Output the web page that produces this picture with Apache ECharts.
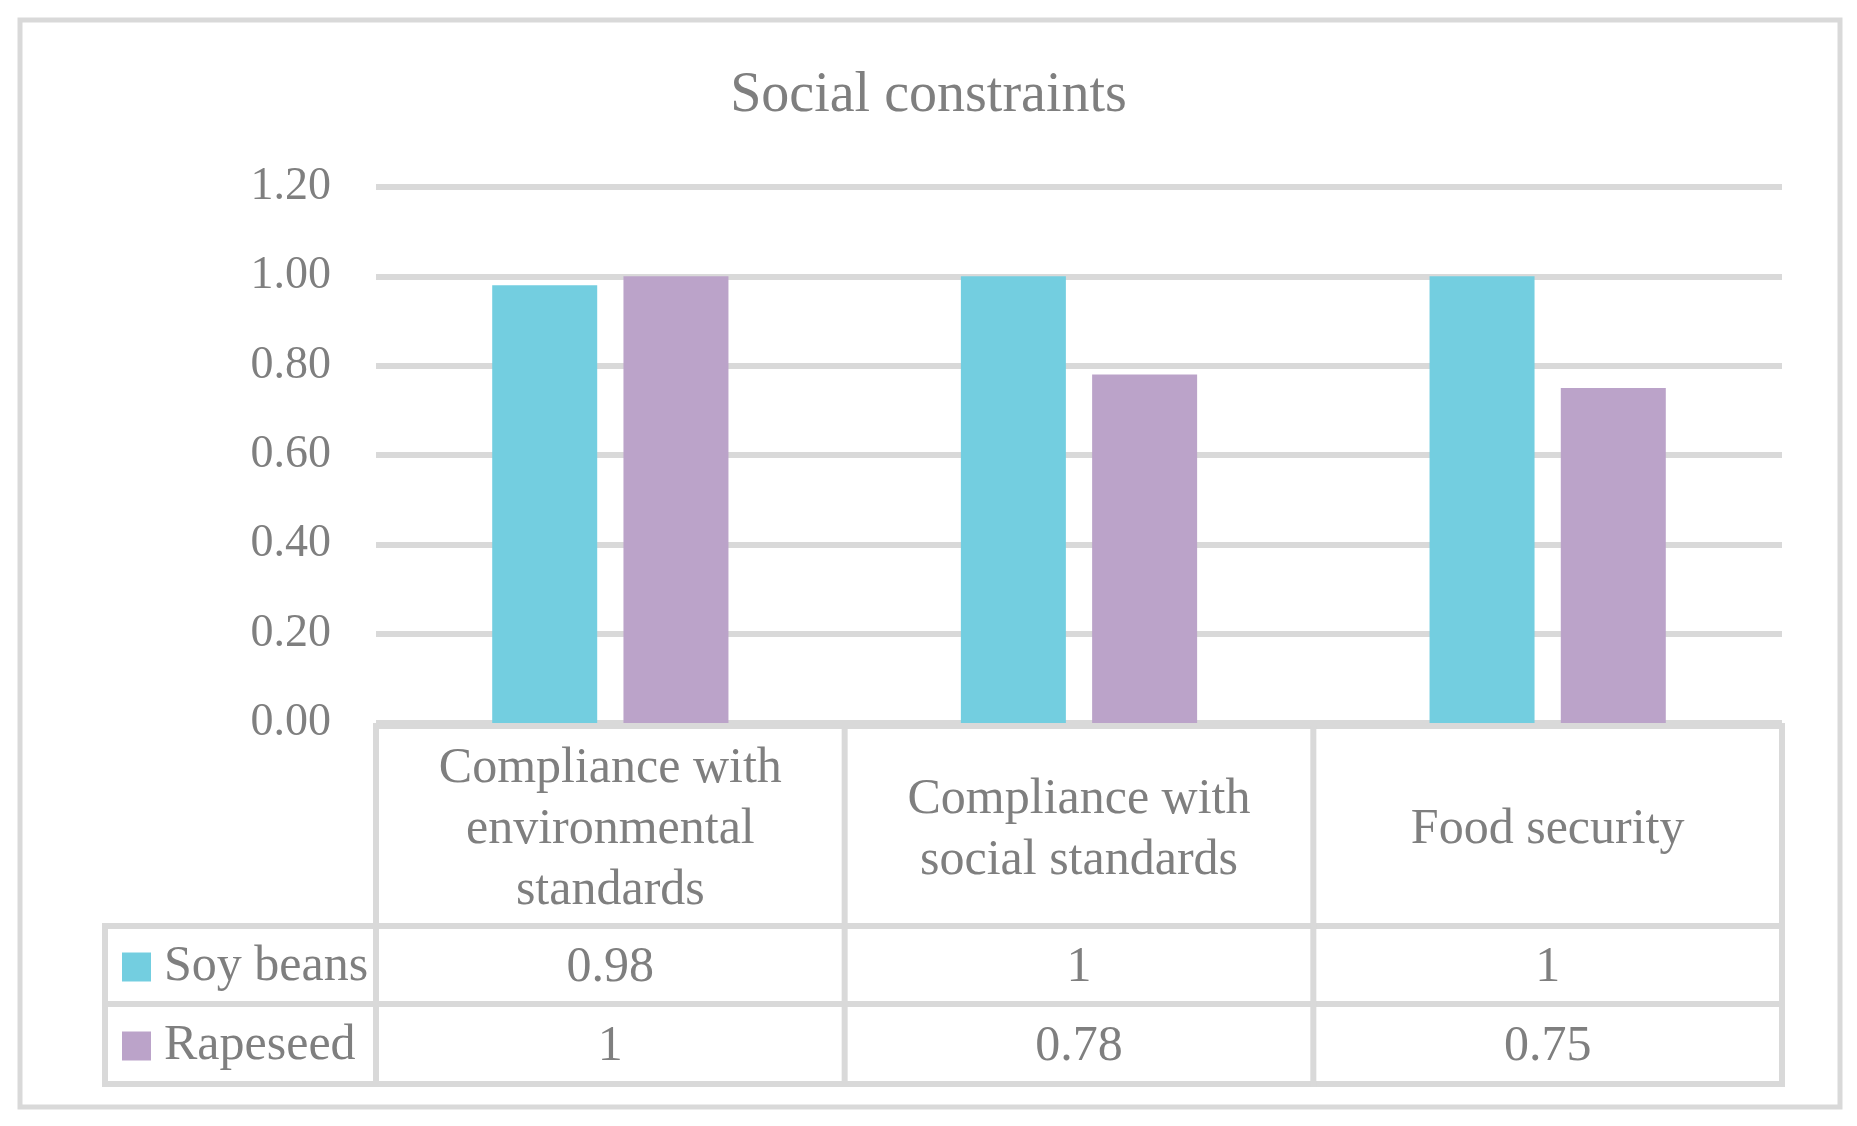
<!DOCTYPE html>
<html>
<head>
<meta charset="utf-8">
<title>Social constraints</title>
<script src="https://cdn.jsdelivr.net/npm/echarts@6/dist/echarts.min.js"></script>
<style>
    html, body { margin: 0; padding: 0; background: #fff; }
    #chart { width: 1857px; height: 1126px; }
</style>
</head>
<body>
<div id="chart"></div>
<script>
    var categories = ['Compliance with\nenvironmental\nstandards', 'Compliance with\nsocial standards', 'Food security'];
    var seriesNames = ['Soy beans', 'Rapeseed'];
    var soyBeans = [0.98, 1, 1];
    var rapeseed = [1, 0.78, 0.75];
    var yTicks = [0, 0.2, 0.4, 0.6, 0.8, 1.0, 1.2];

    var font = 'Liberation Serif';
    var textColor = '#7f7f7f';
    var lineColor = '#d9d9d9';

    // grid edges (table lines follow them)
    var gLeft = 376, gRight = 1782, gTop = 187, gBottom = 723;
    var rowLines = [726, 926, 1004, 1084];
    var tableLeft = 105;

    var chart = echarts.init(document.getElementById('chart'));

    function labelAxis(formatter, margin, lineHeight) {
        return {
            type: 'category',
            data: categories,
            position: 'bottom',
            axisLine: {show: false},
            axisTick: {show: false},
            axisLabel: {
                interval: 0,
                margin: margin,
                verticalAlign: 'middle',
                color: textColor,
                fontFamily: font,
                fontSize: 50,
                lineHeight: lineHeight,
                formatter: formatter
            }
        };
    }

    // table frame: horizontal rules, left edge, and one divider per category boundary
    function tableLines() {
        var items = [];
        var style = {stroke: lineColor, lineWidth: 6};
        items.push({type: 'line', shape: {x1: gLeft - 3, y1: rowLines[0], x2: gRight + 3, y2: rowLines[0]}, style: style, silent: true});
        for (var r = 1; r < rowLines.length; r++) {
            items.push({type: 'line', shape: {x1: tableLeft - 3, y1: rowLines[r], x2: gRight + 3, y2: rowLines[r]}, style: style, silent: true});
        }
        items.push({type: 'line', shape: {x1: tableLeft, y1: rowLines[1] - 3, x2: tableLeft, y2: rowLines[3] + 3}, style: style, silent: true});
        var step = (gRight - gLeft) / categories.length;
        for (var c = 0; c <= categories.length; c++) {
            var x = gLeft + c * step;
            items.push({type: 'line', shape: {x1: x, y1: rowLines[0] - 3, x2: x, y2: rowLines[3] + 3}, style: style, silent: true});
        }
        items.push({type: 'rect', shape: {x: 20, y: 20, width: 1820, height: 1087}, style: {fill: 'none', stroke: lineColor, lineWidth: 5}, silent: true});
        return items;
    }

    var option = {
        animation: false,
        backgroundColor: '#fff',
        title: {
            text: 'Social constraints',
            left: 'center',
            top: 63,
            textStyle: {color: textColor, fontFamily: font, fontSize: 56, fontWeight: 'normal'}
        },
        legend: {
            data: seriesNames,
            orient: 'vertical',
            left: 122,
            top: 942,
            padding: 0,
            itemWidth: 29,
            itemHeight: 29,
            itemGap: 29,
            icon: 'rect',
            selectedMode: false,
            textStyle: {color: textColor, fontFamily: font, fontSize: 50, lineHeight: 50, padding: [0, 0, 0, 8]}
        },
        grid: {left: gLeft, right: 1857 - gRight, top: gTop, bottom: 1126 - gBottom},
        xAxis: [
            labelAxis(null, 107, 61),
            labelAxis(function (v, i) { return String(soyBeans[i]); }, 245, 50),
            labelAxis(function (v, i) { return String(rapeseed[i]); }, 324, 50)
        ],
        yAxis: {
            type: 'value',
            min: yTicks[0],
            max: yTicks[yTicks.length - 1],
            interval: 0.2,
            axisLine: {show: false},
            axisTick: {show: false},
            axisLabel: {
                margin: 45,
                color: textColor,
                fontFamily: font,
                fontSize: 46,
                padding: [8, 0, 0, 0],
                formatter: function (v) { return v.toFixed(2); }
            },
            splitLine: {lineStyle: {color: lineColor, width: 6}}
        },
        series: [
            {name: seriesNames[0], type: 'bar', data: soyBeans, barWidth: 105, barGap: '25%', itemStyle: {color: '#73cee0'}},
            {name: seriesNames[1], type: 'bar', data: rapeseed, barWidth: 105, barGap: '25%', itemStyle: {color: '#bba3c9'}}
        ],
        graphic: tableLines()
    };

    chart.setOption(option);
</script>
</body>
</html>
